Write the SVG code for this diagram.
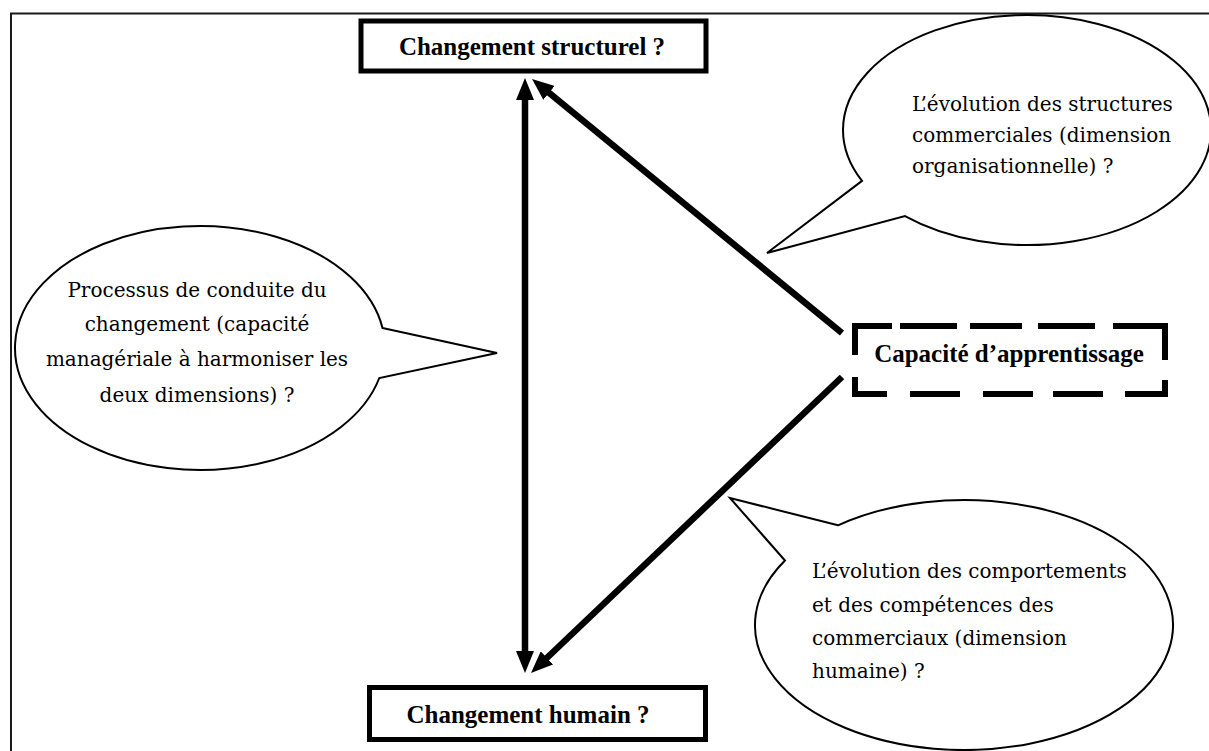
<svg xmlns="http://www.w3.org/2000/svg" width="1209" height="751" viewBox="0 0 1209 751">
<style>
.frame{fill:none;stroke:#1a1a1a;stroke-width:2}
.bubble{fill:#fff;stroke:#000;stroke-width:2;stroke-linejoin:miter}
.box{fill:#fff;stroke:#000;stroke-width:5}
.dash{fill:none;stroke:#000;stroke-width:6;stroke-linecap:butt;stroke-linejoin:miter}
.arrow{fill:none;stroke:#000;stroke-width:6.5;stroke-linecap:butt}
.bold{font-family:'Liberation Serif','Times New Roman',serif;font-weight:700;font-size:25px;fill:#000}
.txt{font-family:'DejaVu Serif',serif;font-weight:400;font-size:20px;fill:#000}
</style>
<defs>
<marker id="ah" viewBox="0 0 22 18" refX="6" refY="9" markerWidth="22" markerHeight="18" markerUnits="userSpaceOnUse" orient="auto-start-reverse">
<path d="M0,0 L22,9 L0,18 z" fill="#000"/>
</marker>
</defs>
<rect x="0" y="0" width="1209" height="751" fill="#fff"/>
<path class="frame" d="M11,751 L11,13.5 L1209,13.5"/>

<g id="connectors">
<line class="arrow" x1="525" y1="94" x2="525" y2="657" marker-start="url(#ah)" marker-end="url(#ah)"/>
<line class="arrow" x1="842" y1="333" x2="544.4" y2="89.1" marker-end="url(#ah)"/>
<line class="arrow" x1="842" y1="377" x2="542.6" y2="662" marker-end="url(#ah)"/>
</g>

<g id="node-structurel">
<rect class="box" x="361" y="21" width="345" height="50"/>
<text class="bold" x="532" y="55" text-anchor="middle">Changement structurel ?</text>
</g>

<g id="node-humain">
<rect class="box" x="369.5" y="687.5" width="336" height="52"/>
<text class="bold" x="528" y="723" text-anchor="middle">Changement humain ?</text>
</g>

<g id="node-capacite">
<path class="dash" d="M855,355 L855,326 L892,326 M900,326 L957,326 M970,326 L1022,326 M1038,326 L1095,326 M1113,326 L1165,326 L1165,360 M855,377 L855,394 L887,394 M910,394 L960,394 M983,394 L1033,394 M1053,394 L1103,394 M1125,394 L1165,394 L1165,380"/>
<text class="bold" x="1009" y="362" text-anchor="middle">Capacité d’apprentissage</text>
</g>

<g id="bubble-organisation">
<path class="bubble" d="M862,180.9 L767,253 L905,216.1 A184 115 0 1 0 862,180.9 Z"/>
<text class="txt" x="912" y="111">L’évolution des structures</text>
<text class="txt" x="912" y="142">commerciales (dimension</text>
<text class="txt" x="912" y="173">organisationnelle) ?</text>
</g>

<g id="bubble-processus">
<path class="bubble" d="M382.5,328 L497,353 L379.3,378 A185 122 0 1 1 382.5,328 Z"/>
<text class="txt" x="197" y="297" text-anchor="middle">Processus de conduite du</text>
<text class="txt" x="197" y="331" text-anchor="middle">changement (capacité</text>
<text class="txt" x="197" y="366" text-anchor="middle">managériale à harmoniser les</text>
<text class="txt" x="197" y="402" text-anchor="middle">deux dimensions) ?</text>
</g>

<g id="bubble-humaine">
<path class="bubble" d="M838,525.3 L730,498 L785,560.5 A209 125 0 1 0 838,525.3 Z"/>
<text class="txt" x="812" y="578">L’évolution des comportements</text>
<text class="txt" x="812" y="612">et des compétences des</text>
<text class="txt" x="812" y="645">commerciaux (dimension</text>
<text class="txt" x="812" y="678">humaine) ?</text>
</g>
</svg>
